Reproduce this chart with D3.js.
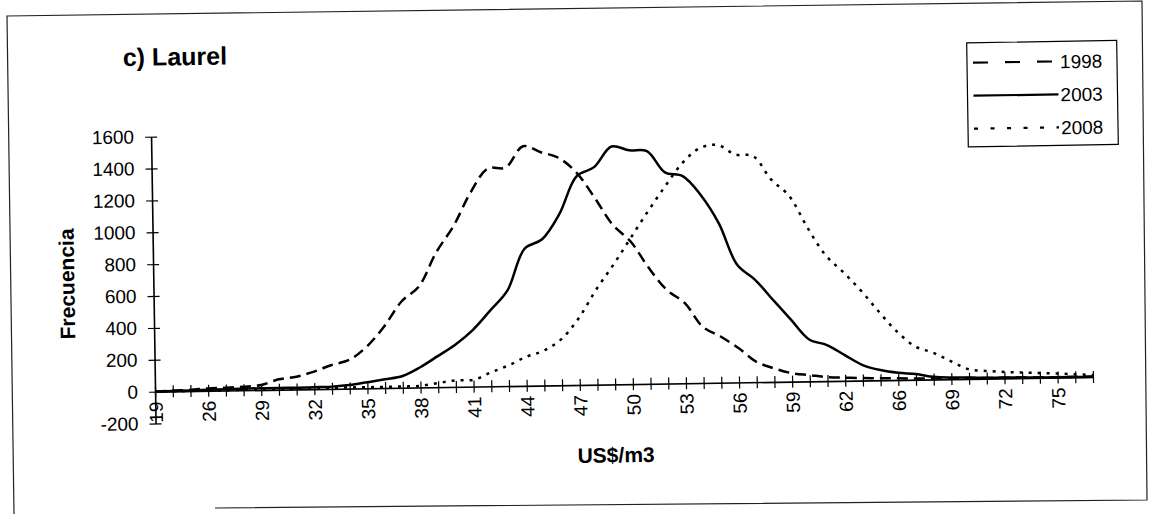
<!DOCTYPE html>
<html>
<head>
<meta charset="utf-8">
<script src="https://cdn.jsdelivr.net/npm/d3@7"></script>
<style>
  body { margin: 0; background: #fff; }
  text { font-family: "Liberation Sans", Arial, sans-serif; fill: #000; }
</style>
</head>
<body>
<div id="chart"></div>
<script>
// price classes (US$/m3), only every third one gets a label
var categories = [19, 24, 25, 26, 27, 28, 29, 30, 31, 32, 33, 34, 35, 36, 37, 38, 39, 40, 41, 42,
  43, 44, 45, 46, 47, 48, 49, 50, 51, 52, 53, 54, 55, 56, 57, 58, 59, 60, 61, 62,
  64, 65, 66, 67, 68, 69, 70, 71, 72, 73, 74, 75, 76, 77];

var years = ["1998", "2003", "2008"];

var freq1998 = [0, 5, 8, 15, 18, 22, 31, 65, 80, 110, 150, 180, 262, 386, 541, 634, 845, 1008, 1218, 1367,
  1371, 1503, 1464, 1427, 1333, 1174, 1002, 895, 728, 588, 504, 353, 290, 216, 128, 85, 53, 39, 25, 20,
  15, 12, 10, 8, 6, 5, 5, 4, 3, 3, 2, 2, 2, 2];

var freq2003 = [0, 2, 4, 6, 8, 10, 11, 11, 11, 12, 14, 22, 38, 55, 74, 127, 195, 265, 355, 475,
  600, 860, 918, 1075, 1309, 1365, 1493, 1467, 1460, 1325, 1300, 1180, 1000, 738, 642, 514, 387, 263, 226, 161,
  97, 64, 45, 35, 16, 10, 8, 5, 5, 3, 2, 2, 1, 1];

var freq2008 = [0, 0, 1, 2, 2, 3, 4, 4, 5, 5, 6, 7, 7, 7, 8, 10, 26, 41, 43, 88,
  130, 182, 219, 289, 419, 595, 750, 916, 1082, 1238, 1383, 1475, 1492, 1430, 1418, 1269, 1165, 965, 790, 680,
  560, 425, 300, 208, 167, 112, 60, 48, 40, 35, 30, 25, 18, 12];

var yTicks = [-200, 0, 200, 400, 600, 800, 1000, 1200, 1400, 1600];

var width = 1150;
var height = 514;
var font = "Liberation Sans, Arial, sans-serif";

var svg = d3.select("#chart")
  .append("svg")
    .attr("width", width)
    .attr("height", height);

svg.append("rect").attr("width", width).attr("height", height).attr("fill", "#fff");

// frame of the scanned page (a bit crooked)
var frame = svg.append("g").attr("stroke", "#222").attr("stroke-width", 1.2).attr("fill", "none");
frame.append("path").attr("d", "M14,514 L7,16 L1142,1 L1147,500 L215,508");

// the whole chart sits slightly rotated, like the scan
var g = svg.append("g").attr("transform", "rotate(-0.9,575,257)");

var x = d3.scalePoint()
    .domain(categories)
    .range([153, 1091]);

var y = d3.scaleLinear()
    .domain([-200, 1600])
    .range([416.9, 130]);

// ======= axes ========

var xAxis = d3.axisBottom(x)
    .tickSizeInner(6)
    .tickSizeOuter(0)
    .tickFormat(function(d, i){ return i % 3 === 0 ? String(d) : ""; });

var gx = g.append("g")
    .attr("transform", "translate(0," + y(0) + ")")
    .call(xAxis);

gx.select(".domain").attr("stroke", "#000").attr("stroke-width", 1.6);
gx.selectAll(".tick line").attr("y1", -6).attr("y2", 6).attr("stroke", "#000").attr("stroke-width", 1.2);
gx.selectAll(".tick text")
    .attr("transform", "rotate(-90)")
    .attr("x", -10)
    .attr("y", 0)
    .attr("dy", "0.36em")
    .style("text-anchor", "end")
    .style("font-family", font)
    .style("font-size", "19px");

var yAxis = d3.axisLeft(y)
    .tickValues(yTicks)
    .tickSizeInner(6)
    .tickSizeOuter(0)
    .tickFormat(function(d){ return String(d); });

var gy = g.append("g")
    .attr("transform", "translate(" + x(categories[0]) + ",0)")
    .call(yAxis);

gy.select(".domain").attr("stroke", "#000").attr("stroke-width", 1.6);
gy.selectAll(".tick line").attr("x1", -6).attr("x2", 6).attr("stroke", "#000").attr("stroke-width", 1.2);
gy.selectAll(".tick text")
    .attr("x", -17)
    .style("font-family", font)
    .style("font-size", "19px");

// ======= series ========

var series = [
  { name: years[0], values: freq1998, dash: "11,6", legendDash: "15,17" },
  { name: years[1], values: freq2003, dash: null, legendDash: null },
  { name: years[2], values: freq2008, dash: "3,6", legendDash: "4,12.5" }
];

var line = d3.line()
    .x(function(d, i){ return x(categories[i]); })
    .y(function(d){ return y(d); })
    .curve(d3.curveCatmullRom.alpha(0.5));

g.selectAll(".serie")
    .data(series)
  .enter().append("path")
    .attr("class", "serie")
    .attr("d", function(d){ return line(d.values); })
    .attr("fill", "none")
    .attr("stroke", "#000")
    .attr("stroke-width", 2.5)
    .attr("stroke-dasharray", function(d){ return d.dash; });

// ======= titles ========

g.append("text")
    .attr("x", 126)
    .attr("y", 59)
    .style("font-size", "25px")
    .style("font-weight", "bold")
    .text("c) Laurel");

g.append("text")
    .attr("transform", "translate(74,276) rotate(-90)")
    .attr("text-anchor", "middle")
    .style("font-size", "21px")
    .style("font-weight", "bold")
    .text("Frecuencia");

g.append("text")
    .attr("x", 613)
    .attr("y", 463)
    .attr("text-anchor", "middle")
    .style("font-size", "21px")
    .style("font-weight", "bold")
    .text("US$/m3");

// ======= legend ========

var legend = g.append("g").attr("transform", "translate(970,49)");

legend.append("rect")
    .attr("width", 150)
    .attr("height", 104)
    .attr("fill", "#fff")
    .attr("stroke", "#000")
    .attr("stroke-width", 1.2);

var items = legend.selectAll(".item")
    .data(series)
  .enter().append("g")
    .attr("class", "item")
    .attr("transform", function(d, i){ return "translate(0," + (20 + i * 33) + ")"; });

items.append("line")
    .attr("x1", 6)
    .attr("x2", 91)
    .attr("stroke", "#000")
    .attr("stroke-width", 2.2)
    .attr("stroke-dasharray", function(d){ return d.legendDash; });

items.append("text")
    .attr("x", 93)
    .attr("y", 7)
    .style("font-size", "19px")
    .text(function(d){ return d.name; });
</script>
</body>
</html>
